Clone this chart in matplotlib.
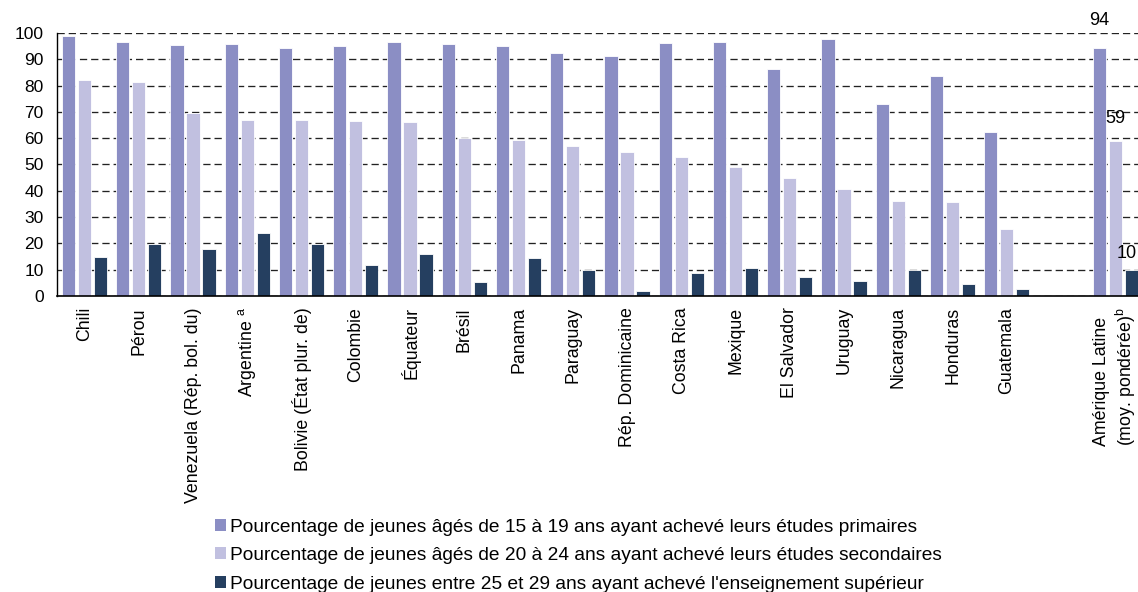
"""
Education completion among youth in Latin America, by country.
"""

import numpy as np
import matplotlib.pyplot as plt
from matplotlib.patches import Patch

plt.rcParams["font.family"] = ["Liberation Sans", "DejaVu Sans"]
plt.rcParams["mathtext.fontset"] = "custom"
plt.rcParams["mathtext.rm"] = "Liberation Sans"

countries = [
    "Chili", "Pérou", "Venezuela (Rép. bol. du)", "Argentine $^{\\rm a}$",
    "Bolivie (État plur. de)", "Colombie", "Équateur", "Brésil", "Panama",
    "Paraguay", "Rép. Dominicaine", "Costa Rica", "Mexique", "El Salvador",
    "Uruguay", "Nicaragua", "Honduras", "Guatemala", "",
    "Amérique Latine\n(moy. pondérée)$^{\\rm b}$",
]
primary = [99.0, 96.6, 95.6, 95.9, 94.2, 95.2, 96.6, 95.7, 95.2, 92.4,
           91.1, 96.2, 96.6, 86.3, 97.6, 72.9, 83.7, 62.4, np.nan, 94.3]
secondary = [82.2, 81.5, 69.7, 67.1, 66.8, 66.4, 66.2, 59.9, 59.4, 57.1,
             54.7, 53.0, 48.9, 45.0, 40.8, 36.1, 35.8, 25.3, np.nan, 59.1]
tertiary = [14.8, 19.7, 17.8, 23.9, 19.9, 11.8, 15.8, 5.2, 14.4, 9.9,
            2.0, 8.7, 10.5, 7.2, 5.7, 9.8, 4.7, 2.7, np.nan, 10.0]
series_labels = [
    "Pourcentage de jeunes âgés de 15 à 19 ans ayant achevé leurs études primaires",
    "Pourcentage de jeunes âgés de 20 à 24 ans ayant achevé leurs études secondaires",
    "Pourcentage de jeunes entre 25 et 29 ans ayant achevé l'enseignement supérieur",
]
avg_labels = ["94", "59", "10"]

colors = ["#8b8ec4", "#c1c0e0", "#253f60"]
offsets = [-0.295, 0.0, 0.295]
width = 0.245

fig = plt.figure(figsize=(11.38, 5.92), dpi=100)
ax = fig.add_axes([0.0505, 0.5, 0.9534, 0.4443])

x = np.arange(len(countries))
for vals, col, off in zip([primary, secondary, tertiary], colors, offsets):
    ax.bar(x + off, vals, width=width, color=col, edgecolor="white", linewidth=0.6, zorder=3)

# value labels for the regional average (offsets in points)
last = len(countries) - 1
label_shift = [(0, 19.5), (0, 16), (-3.6, 11.7)]
for vals, off, txt, (dx, dy) in zip([primary, secondary, tertiary], offsets, avg_labels, label_shift):
    ax.annotate(txt, (last + off, vals[last]), xytext=(dx, dy), textcoords="offset points",
                ha="center", va="center", fontsize=13, annotation_clip=False)

ax.set_xlim(-0.5, len(countries) - 0.5)
ax.set_ylim(0, 100)
ax.set_yticks(range(0, 101, 10))
ax.set_xticks(x)
ax.set_xticklabels(countries, rotation=90, fontsize=12.8, va="top", ha="center", multialignment="left")
ax.tick_params(axis="both", length=0)
ax.tick_params(axis="y", labelsize=12.5, pad=10)
ax.tick_params(axis="x", pad=8)

ax.yaxis.grid(True, color="#222222", linestyle=(0, (5.5, 3)), linewidth=0.95, zorder=0)
ax.set_axisbelow(True)
for side in ["top", "right"]:
    ax.spines[side].set_visible(False)
ax.spines["left"].set_color("black")
ax.spines["left"].set_linewidth(1.0)
ax.spines["bottom"].set_color("black")
ax.spines["bottom"].set_linewidth(1.2)
ax.spines["bottom"].set_zorder(4)

handles = [Patch(facecolor=c, edgecolor="none") for c in colors]
fig.legend(handles, series_labels, loc="upper left", bbox_to_anchor=(0.189, 0.124),
           frameon=False, fontsize=13.8, handlelength=0.56, handleheight=0.56,
           handletextpad=0.22, labelspacing=0.6, borderpad=0, borderaxespad=0)

fig.savefig("out.png", dpi=100)
